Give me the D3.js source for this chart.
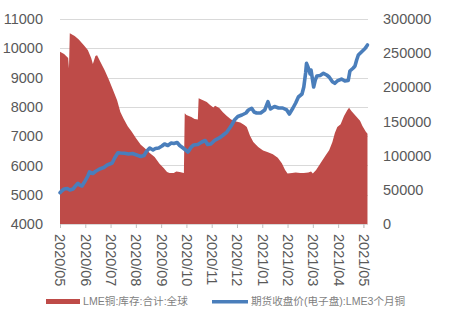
<!DOCTYPE html>
<html><head><meta charset="utf-8">
<script src="https://cdn.jsdelivr.net/npm/d3@7"></script>
<style>body{margin:0;background:#fff}svg{display:block}</style>
</head><body><svg id="c" width="450" height="324"></svg>
<script>
// Month tick labels (equally spaced category-style axis)
const monthLabels = ["2020/05","2020/06","2020/07","2020/08","2020/09","2020/10","2020/11","2020/12","2021/01","2021/02","2021/03","2021/04","2021/05"];
const leftTicks = [4000,5000,6000,7000,8000,9000,10000,11000];
const rightTicks = [0,50000,100000,150000,200000,250000,300000];
const seriesNames = ["LME铜:库存:合计:全球","期货收盘价(电子盘):LME3个月铜"];

// LME copper inventory (tonnes) – right axis
const stockDates = ["2020-05-01","2020-05-06","2020-05-11","2020-05-12","2020-05-13","2020-05-19","2020-05-24","2020-05-30","2020-06-04","2020-06-08","2020-06-10","2020-06-13","2020-06-15","2020-06-19","2020-06-24","2020-06-29","2020-07-04","2020-07-09","2020-07-13","2020-07-17","2020-07-22","2020-07-27","2020-08-01","2020-08-07","2020-08-12","2020-08-18","2020-08-24","2020-08-30","2020-09-04","2020-09-08","2020-09-11","2020-09-16","2020-09-19","2020-09-23","2020-09-28","2020-09-29","2020-10-01","2020-10-07","2020-10-11","2020-10-15","2020-10-16","2020-10-20","2020-10-26","2020-10-30","2020-11-03","2020-11-05","2020-11-10","2020-11-14","2020-11-19","2020-11-24","2020-11-30","2020-12-05","2020-12-10","2020-12-13","2020-12-17","2020-12-21","2020-12-27","2021-01-02","2021-01-08","2021-01-14","2021-01-20","2021-01-25","2021-01-29","2021-02-01","2021-02-06","2021-02-10","2021-02-15","2021-02-19","2021-02-24","2021-02-27","2021-03-01","2021-03-05","2021-03-10","2021-03-13","2021-03-17","2021-03-21","2021-03-25","2021-03-28","2021-03-31","2021-04-04","2021-04-08","2021-04-12","2021-04-14","2021-04-17","2021-04-22","2021-04-27","2021-04-30","2021-05-04","2021-05-06"];
const stockValues = [252000,248800,243000,228000,279000,275000,270000,262000,254600,243000,234000,246000,247000,237000,225000,211000,196000,181000,164000,154000,143000,135000,126000,116000,111000,104000,98000,88000,82000,76000,74600,74600,77000,76000,74600,162000,159500,156600,153700,153000,184000,182000,178500,174000,170500,173000,169800,164000,158000,153000,150000,148500,145000,142000,129000,120000,112700,107600,105000,102000,97000,89000,79000,74000,74600,75400,74600,74600,75400,76800,74000,79000,88000,93700,101000,108000,120000,133000,142000,146000,158000,167000,170000,165000,158000,151000,143000,135000,132000];

// LME 3-month copper close (USD/t) – left axis
const priceDates = ["2020-05-01","2020-05-03","2020-05-06","2020-05-10","2020-05-13","2020-05-17","2020-05-20","2020-05-23","2020-05-25","2020-05-28","2020-05-31","2020-06-04","2020-06-06","2020-06-10","2020-06-13","2020-06-18","2020-06-23","2020-06-27","2020-07-03","2020-07-06","2020-07-10","2020-07-13","2020-07-18","2020-07-23","2020-07-28","2020-08-02","2020-08-07","2020-08-11","2020-08-14","2020-08-18","2020-08-22","2020-08-25","2020-08-29","2020-09-02","2020-09-05","2020-09-09","2020-09-13","2020-09-16","2020-09-20","2020-09-23","2020-09-27","2020-09-30","2020-10-03","2020-10-07","2020-10-10","2020-10-15","2020-10-20","2020-10-24","2020-10-27","2020-10-31","2020-11-05","2020-11-10","2020-11-14","2020-11-19","2020-11-24","2020-11-28","2020-12-02","2020-12-07","2020-12-12","2020-12-15","2020-12-19","2020-12-22","2020-12-25","2020-12-30","2021-01-04","2021-01-08","2021-01-11","2021-01-16","2021-01-21","2021-01-26","2021-01-31","2021-02-03","2021-02-07","2021-02-10","2021-02-13","2021-02-17","2021-02-19","2021-02-21","2021-02-22","2021-02-24","2021-02-26","2021-02-27","2021-03-02","2021-03-04","2021-03-06","2021-03-10","2021-03-14","2021-03-18","2021-03-21","2021-03-25","2021-03-28","2021-03-31","2021-04-05","2021-04-09","2021-04-13","2021-04-15","2021-04-19","2021-04-21","2021-04-23","2021-04-25","2021-04-29","2021-05-03","2021-05-06"];
const priceValues = [5069,5127,5195,5212,5161,5195,5298,5390,5332,5298,5434,5639,5776,5724,5793,5878,5929,6015,6083,6254,6435,6424,6414,6390,6407,6356,6305,6339,6476,6595,6527,6578,6595,6663,6732,6680,6766,6749,6783,6680,6595,6527,6459,6629,6698,6715,6800,6851,6715,6732,6868,6937,7022,7141,7346,7551,7671,7722,7790,7893,7951,7824,7790,7790,7893,8176,7927,8012,7961,7961,7893,7756,7961,8132,8337,8439,8678,9156,9487,9327,9122,9258,8678,8917,9054,9071,9146,9088,9020,8859,8804,8883,8951,8883,8900,9224,9327,9395,9600,9771,9883,9993,10112];

const colors = {stock:"#BE4B48", price:"#4A7EBB", grid:"#D9D9D9", text:"#595959", legend:"#7F7F7F"};

// convert date to month position (each month equal width, as in the source axis)
function monthPos(s){
  const [y,m,d] = s.split("-").map(Number);
  const idx = (y-2020)*12 + (m-5);
  const days = new Date(y, m, 0).getDate();
  return idx + (d-1)/days;
}

const svg = d3.select("#c");
const mLeft = 60, mRight = 368, mTop = 19, mBottom = 224;
const x = d3.scaleLinear().domain([0,12]).range([mLeft, 363.4]);
const yL = d3.scaleLinear().domain([4000,11000]).range([mBottom, mTop]);
const yR = d3.scaleLinear().domain([0,300000]).range([mBottom, mTop]);

// gridlines
svg.append("g").selectAll("line").data(leftTicks).join("line")
  .attr("x1", mLeft).attr("x2", mRight)
  .attr("y1", d=>Math.round(yL(d))+0.5).attr("y2", d=>Math.round(yL(d))+0.5)
  .attr("stroke", colors.grid).attr("stroke-width",1);

// area
const stock = stockDates.map((d,i)=>({p:monthPos(d), v:stockValues[i]}));
svg.append("path").datum(stock)
  .attr("fill", colors.stock)
  .attr("d", d3.area().x(d=>x(d.p)).y0(yR(0)).y1(d=>yR(d.v)));

// x axis ticks
const xAxis = svg.append("g").attr("transform",`translate(0,${mBottom})`)
  .call(d3.axisBottom(x).tickValues(d3.range(13)).tickSize(4).tickFormat(i=>monthLabels[i]));
xAxis.select(".domain").attr("stroke", colors.grid);
xAxis.selectAll(".tick line").attr("stroke", "#BFBFBF");
xAxis.selectAll(".tick text")
  .attr("fill", colors.text).attr("font-family","Liberation Sans, Arial, sans-serif").attr("font-size","14.5px")
  .attr("text-anchor","start").attr("transform","translate(0,10) rotate(90)").attr("x",0).attr("y",0).attr("dy","0.35em");

// price line
const price = priceDates.map((d,i)=>({p:monthPos(d), v:priceValues[i]}));
svg.append("path").datum(price)
  .attr("fill","none").attr("stroke", colors.price).attr("stroke-width",3.6)
  .attr("stroke-linejoin","round").attr("stroke-linecap","round")
  .attr("d", d3.line().x(d=>x(d.p)).y(d=>yL(d.v)));

// left axis
const la = svg.append("g").attr("transform",`translate(${mLeft},0)`)
  .call(d3.axisLeft(yL).tickValues(leftTicks).tickSize(0).tickPadding(17).tickFormat(d3.format("d")));
la.select(".domain").remove();
la.selectAll("text").attr("fill", colors.text).attr("font-family","Liberation Sans, Arial, sans-serif").attr("font-size","14.5px");

// right axis
const ra = svg.append("g").attr("transform",`translate(${mRight},0)`)
  .call(d3.axisRight(yR).tickValues(rightTicks).tickSize(0).tickPadding(15).tickFormat(d3.format("d")));
ra.select(".domain").remove();
ra.selectAll("text").attr("fill", colors.text).attr("font-family","Liberation Sans, Arial, sans-serif").attr("font-size","14.5px");

// legend
const lg = svg.append("g").attr("font-family","Liberation Sans, Noto Sans CJK SC, sans-serif").attr("font-size","10.6px").attr("fill", colors.legend);
lg.append("rect").attr("x",46).attr("y",299).attr("width",34).attr("height",5).attr("fill", colors.stock);
lg.append("text").attr("x",83).attr("y",301.5).attr("dy","0.35em").text(seriesNames[0]);
lg.append("line").attr("x1",212).attr("x2",248).attr("y1",301.7).attr("y2",301.7).attr("stroke", colors.price).attr("stroke-width",3.5);
lg.append("text").attr("x",251).attr("y",301.5).attr("dy","0.35em").text(seriesNames[1]);
</script></body></html>
